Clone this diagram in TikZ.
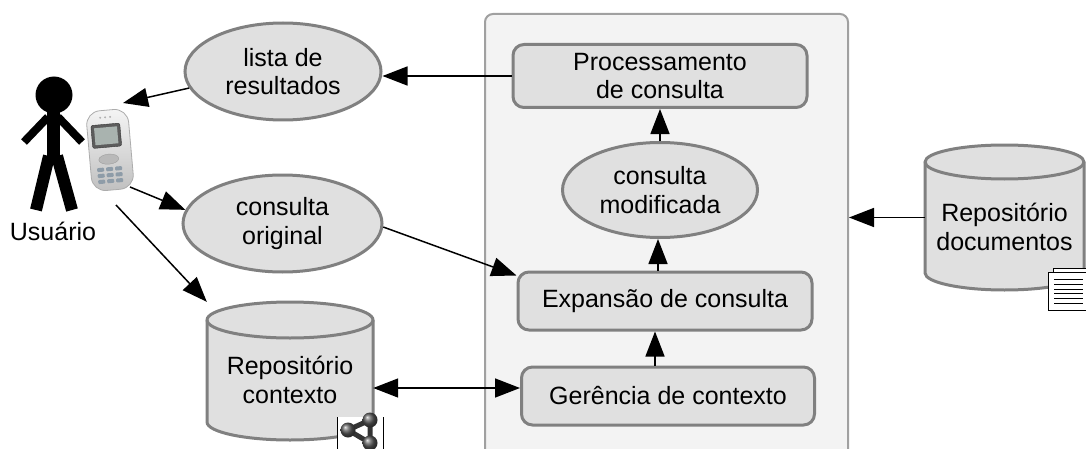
\documentclass[tikz,border=0pt]{standalone}
\usepackage{fontspec}
\setmainfont{Liberation Sans}
\usetikzlibrary{arrows.meta,shapes.geometric,calc}
\definecolor{boxfill}{HTML}{E0E0E0}
\definecolor{boxline}{HTML}{808080}
\definecolor{panelfill}{HTML}{F3F3F3}
\definecolor{panelline}{HTML}{A0A0A0}
\definecolor{keyblue}{HTML}{8E9CA8}
\definecolor{screenlit}{HTML}{A9B3AF}
\begin{document}
\begin{tikzpicture}[x=1pt,y=1pt,
  every node/.style={font=\fontsize{25}{28.5}\selectfont, inner sep=0pt},
  stepbox/.style={draw=boxline, fill=boxfill, line width=3pt, rounded corners=11pt,
    minimum width=294pt, minimum height=58pt, align=center},
  blob/.style={ellipse, draw=boxline, fill=boxfill, line width=3pt, align=center},
  arr/.style={line width=1.5pt, -{Triangle[length=25pt,width=19pt]}},
  darr/.style={line width=1.5pt, {Triangle[length=25pt,width=19pt]}-{Triangle[length=25pt,width=19pt]}},
  cylline/.style={draw=boxline, line width=3pt, line join=round},
  figure/.style={draw=black, line cap=butt}
]
\useasboundingbox (0,0) rectangle (1086,448);
\fill[white] (0,0) rectangle (1086,448);

% system panel
\node[draw=panelline, fill=panelfill, line width=2pt, rounded corners=8pt,
      minimum width=363pt, minimum height=454pt] (sys) at (666.5,207) {};

% processing chain
\node[stepbox, minimum height=63pt] (proc) at (660,372) {Processamento\\de consulta};
\node[blob, minimum width=195pt, minimum height=95pt] (cmod) at (660,258) {consulta\\modificada};
\node[stepbox] (exp) at (665,147) {Expansão de consulta};
\node[stepbox, minimum width=293pt] (ger) at (668,52) {Gerência de contexto};

% queries and results
\node[blob, minimum width=196pt, minimum height=97pt] (lista) at (283,376.5) {lista de\\resultados};
\node[blob, minimum width=199pt, minimum height=97pt] (corig) at (282.5,224.5) {consulta\\original};

% context repository (cylinder)
\path[cylline, fill=boxfill] (207,128) -- (207,26)
  arc[start angle=180, end angle=360, x radius=83, y radius=18]
  -- (373,128) arc[start angle=0, end angle=180, x radius=83, y radius=18] -- cycle;
\draw[cylline] (207,128) arc[start angle=180, end angle=360, x radius=83, y radius=18];
\node[minimum width=166pt, minimum height=138pt] (rc) at (290,77) {};
\node[align=center] (rctext) at (290,68) {Repositório\\contexto};

% document repository (cylinder)
\path[cylline, fill=boxfill] (925,286) -- (925,175)
  arc[start angle=180, end angle=360, x radius=79.5, y radius=17]
  -- (1084,286) arc[start angle=0, end angle=180, x radius=79.5, y radius=17] -- cycle;
\draw[cylline] (925,286) arc[start angle=180, end angle=360, x radius=79.5, y radius=17];
\node[minimum width=159pt, minimum height=145pt] (rd) at (1004.5,230.5) {};
\node[align=center] (rdtext) at (1004.5,221) {Repositório\\documentos};

% document icon
\draw[fill=white, line width=0.8pt] (1053,150) rectangle (1092,180);
\draw[fill=white, line width=0.8pt] (1048,138) rectangle (1090,176);
\foreach \yy in {169,164,159,155,150,145}
  \draw[line width=0.7pt] (1054,\yy) -- (1083,\yy);

% network icon
\fill[white] (337,-2) rectangle (383,31);
\draw[line width=0.8pt] (337,31) -- (337,-2);
\draw[line width=0.8pt] (383,31) -- (383,-2);
\draw[line width=5pt, gray!40!black] (348,18) -- (370,28) -- (370,5) -- cycle;
\foreach \px/\py in {348/18, 370/28, 370/5}
  \shade[ball color=gray!70!black] (\px,\py) circle (7.5);

% user figure
\fill[black] (54,353) circle (18.5);
\draw[figure, line width=13pt] (53,338) -- (53,288);
\draw[figure, line width=8pt] (48,331) -- (24,306);
\draw[figure, line width=8pt] (58,331) -- (82,306);
\draw[figure, line width=12pt] (49,292) -- (36,238);
\draw[figure, line width=12pt] (57,292) -- (72,238);
\node[anchor=base] (user) at (53,208) {Usuário};

% mobile phone
\begin{scope}[shift={(110,298)}, rotate=5]
  \draw[draw=gray!65, line width=0.8pt, top color=gray!8, bottom color=gray!50,
        rounded corners=14pt] (-21,-40) rectangle (21,40);
  \draw[fill=gray!30!black!75, draw=gray!40!black, rounded corners=2pt] (-17,3) rectangle (12,26);
  \fill[screenlit] (-14,6) rectangle (9,23);
  \foreach \dx in {-5,0,5} \fill[gray!60] (\dx-2,33) circle (1.1);
  \draw[fill=gray!55, draw=gray!75] (-2,-9) ellipse [x radius=10, y radius=5];
  \foreach \ky in {-19,-25,-31}
    \foreach \kx in {-11,-2,7}
      \fill[keyblue, rounded corners=1pt] (\kx-3.5,\ky-2) rectangle (\kx+3.5,\ky+2);
\end{scope}
\node[minimum width=45pt, minimum height=80pt] (phone) at (110,298) {};
\coordinate (phoneIn) at (123,345);
\coordinate (phoneOutA) at (130,261);
\coordinate (phoneOutB) at (116,243);

% connectors
\draw[arr] (proc.west) -- (proc.west -| lista.east);
\draw[arr] (lista.190) -- (phoneIn);
\draw[arr] (phoneOutA) -- (corig.172);
\draw[arr] (phoneOutB) -- (rc.north west);
\draw[arr] (corig.-2) -- ($(exp.north west)+(0,-5)$);
\draw[darr] (rc.east |- 0,60) -- (ger.west |- 0,60);
\draw[arr] (rd.west) -- (rd.west -| sys.east);
\draw[arr] ([xshift=-13pt]ger.north) -- ([xshift=-13pt]ger.north |- exp.south);
\draw[arr] ([xshift=-7pt]exp.north) -- ([xshift=-7pt]exp.north |- cmod.south);
\draw[arr] (cmod.north) -- (proc.south);
\end{tikzpicture}
\end{document}
